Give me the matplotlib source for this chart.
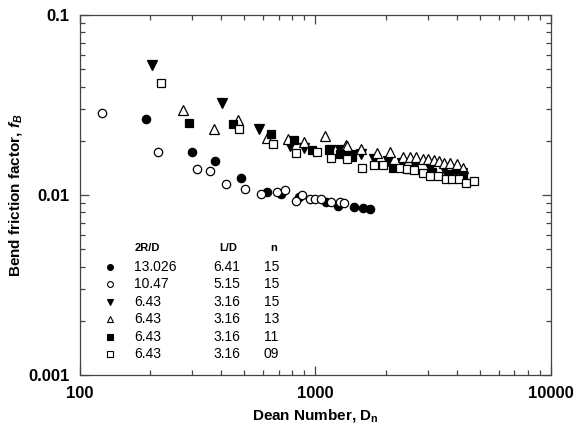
import matplotlib
matplotlib.use("Agg")
import matplotlib.pyplot as plt
from matplotlib.ticker import FixedLocator, FixedFormatter, LogLocator, NullFormatter

plt.rcParams['font.family'] = ['Liberation Sans', 'DejaVu Sans']
plt.rcParams['mathtext.fontset'] = 'custom'
plt.rcParams['mathtext.rm'] = 'Liberation Sans:bold'
plt.rcParams['mathtext.bf'] = 'Liberation Sans:bold'
plt.rcParams['mathtext.it'] = 'Liberation Sans:italic:bold'

# ---- data ----
dn_13026 = [192, 300, 375, 486, 627, 717, 855, 1110, 1243, 1454, 1600, 1712]
f_13026 = [0.0264, 0.0174, 0.0154, 0.0124, 0.0104, 0.0101, 0.0098, 0.0091, 0.0087, 0.0086, 0.0085, 0.0084]

dn_1047 = [124, 215, 316, 358, 418, 505, 590, 688, 741, 830, 875, 946, 1000, 1059, 1170, 1270, 1330]
f_1047 = [0.0287, 0.0174, 0.0139, 0.0136, 0.0115, 0.0108, 0.0101, 0.0104, 0.0106, 0.0093, 0.0100,
          0.0095, 0.0095, 0.0095, 0.0091, 0.0092, 0.0090]

dn_643_15 = [204, 404, 580, 783, 898, 1150, 1270, 1320, 1440, 1563, 1769, 2044, 2329, 2658, 3080, 3500, 3935, 4190]
f_643_15 = [0.0528, 0.0323, 0.0233, 0.0187, 0.0182, 0.0178, 0.0178, 0.0174, 0.0167, 0.0169, 0.0158,
            0.0155, 0.0150, 0.0147, 0.0141, 0.0139, 0.0135, 0.0132]

dn_643_13 = [274, 372, 468, 624, 770, 898, 1095, 1354, 1363, 1563, 1828, 2068, 2355, 2535, 2688,
             2864, 3020, 3200, 3345, 3525, 3741, 3997, 4230]
f_643_13 = [0.0296, 0.0232, 0.0261, 0.0207, 0.0204, 0.0198, 0.0213, 0.0190, 0.0187, 0.0180, 0.0171,
            0.0174, 0.0163, 0.0163, 0.0163, 0.0159, 0.0159, 0.0156, 0.0155, 0.0151, 0.0151, 0.0148, 0.0141]

dn_643_11 = [292, 447, 649, 809, 968, 1140, 1270, 1410, 1430, 2138, 2500, 3118, 3680, 4250]
f_643_11 = [0.0252, 0.0247, 0.0217, 0.0201, 0.0178, 0.0178, 0.0168, 0.0166, 0.0163, 0.0141, 0.0139,
            0.0135, 0.0131, 0.0129]

dn_643_09 = [222, 477, 659, 830, 1016, 1170, 1363, 1578, 1769, 1939, 2296, 2450, 2614, 2866, 3060,
             3302, 3600, 3800, 4060, 4377, 4700]
f_643_09 = [0.0421, 0.0232, 0.0192, 0.0171, 0.0174, 0.0160, 0.0159, 0.0141, 0.0146, 0.0147, 0.0141,
            0.0139, 0.0137, 0.0132, 0.0127, 0.0128, 0.0122, 0.0122, 0.0122, 0.0116, 0.0119]

legend_2rd = ['13.026', '10.47', '6.43', '6.43', '6.43', '6.43']
legend_ld = ['6.41', '5.15', '3.16', '3.16', '3.16', '3.16']
legend_n = ['15', '15', '15', '13', '11', '09']

series = [
    (dn_13026, f_13026, 'o', 'black', 6.0),
    (dn_1047, f_1047, 'o', 'white', 6.0),
    (dn_643_15, f_643_15, 'v', 'black', 6.5),
    (dn_643_13, f_643_13, '^', 'white', 6.5),
    (dn_643_11, f_643_11, 's', 'black', 5.3),
    (dn_643_09, f_643_09, 's', 'white', 5.3),
]

W, H = 584, 433
fig = plt.figure(figsize=(W / 100, H / 100), dpi=100)
L, R, T, B = 79.5, 551, 15, 375
ax = fig.add_axes([L / W, 1 - B / H, (R - L) / W, (B - T) / H])

for x, y, m, fc, ms in series:
    ax.plot(x, y, linestyle='none', marker=m, ms=ms, mfc=fc, mec='black', mew=0.9)

ax.set_xscale('log')
ax.set_yscale('log')
ax.set_xlim(100, 10000)
ax.set_ylim(0.001, 0.1)

ax.xaxis.set_major_locator(FixedLocator([100, 1000, 10000]))
ax.xaxis.set_major_formatter(FixedFormatter(['100', '1000', '10000']))
ax.yaxis.set_major_locator(FixedLocator([0.001, 0.01, 0.1]))
ax.yaxis.set_major_formatter(FixedFormatter(['0.001', '0.01', '0.1']))
ax.xaxis.set_minor_locator(LogLocator(base=10, subs=range(2, 10)))
ax.yaxis.set_minor_locator(LogLocator(base=10, subs=range(2, 10)))
ax.xaxis.set_minor_formatter(NullFormatter())
ax.yaxis.set_minor_formatter(NullFormatter())

ax.tick_params(which='both', direction='in', top=True, right=True, color='#444444', width=0.9)
ax.tick_params(which='major', length=6.5, labelsize=12)
ax.tick_params(axis='x', which='major', pad=8)
ax.tick_params(axis='y', which='major', pad=7)
ax.tick_params(which='minor', length=3.5)
for lab in ax.get_xticklabels() + ax.get_yticklabels():
    lab.set_fontweight('bold')
for s in ax.spines.values():
    s.set_color('#444444')
    s.set_linewidth(0.9)

ax.set_xlabel(r'Dean Number, $\mathbf{D}_{\mathbf{n}}$', fontsize=11, fontweight='bold', labelpad=4)
ax.set_ylabel(r'Bend friction factor, $\mathit{f}_{B}$', fontsize=11, fontweight='bold', labelpad=3)

# ---- legend table ----
def axc(px, py):
    return (px - L) / (R - L), (B - py) / (B - T)

hy = 248
for txt, px in [('2R/D', 135), ('L/D', 219), ('n', 270)]:
    ax.text(*axc(px, hy), txt, transform=ax.transAxes, fontsize=8, fontweight='bold',
            ha='left', va='center')

rows_y = [266.7, 284.2, 301.7, 319.2, 336.7, 354.2]
for (x, y, m, fc, ms), ry, a, b, c in zip(series, rows_y, legend_2rd, legend_ld, legend_n):
    ax.plot(*axc(110, ry), transform=ax.transAxes, marker=m, ms=ms * 0.7, mfc=fc, mec='black',
            mew=0.8, linestyle='none')
    ax.text(*axc(134, ry), a, transform=ax.transAxes, fontsize=10, ha='left', va='center')
    ax.text(*axc(213, ry), b, transform=ax.transAxes, fontsize=10, ha='left', va='center')
    ax.text(*axc(264, ry), c, transform=ax.transAxes, fontsize=10, ha='left', va='center')

fig.savefig('out.png', dpi=100)
